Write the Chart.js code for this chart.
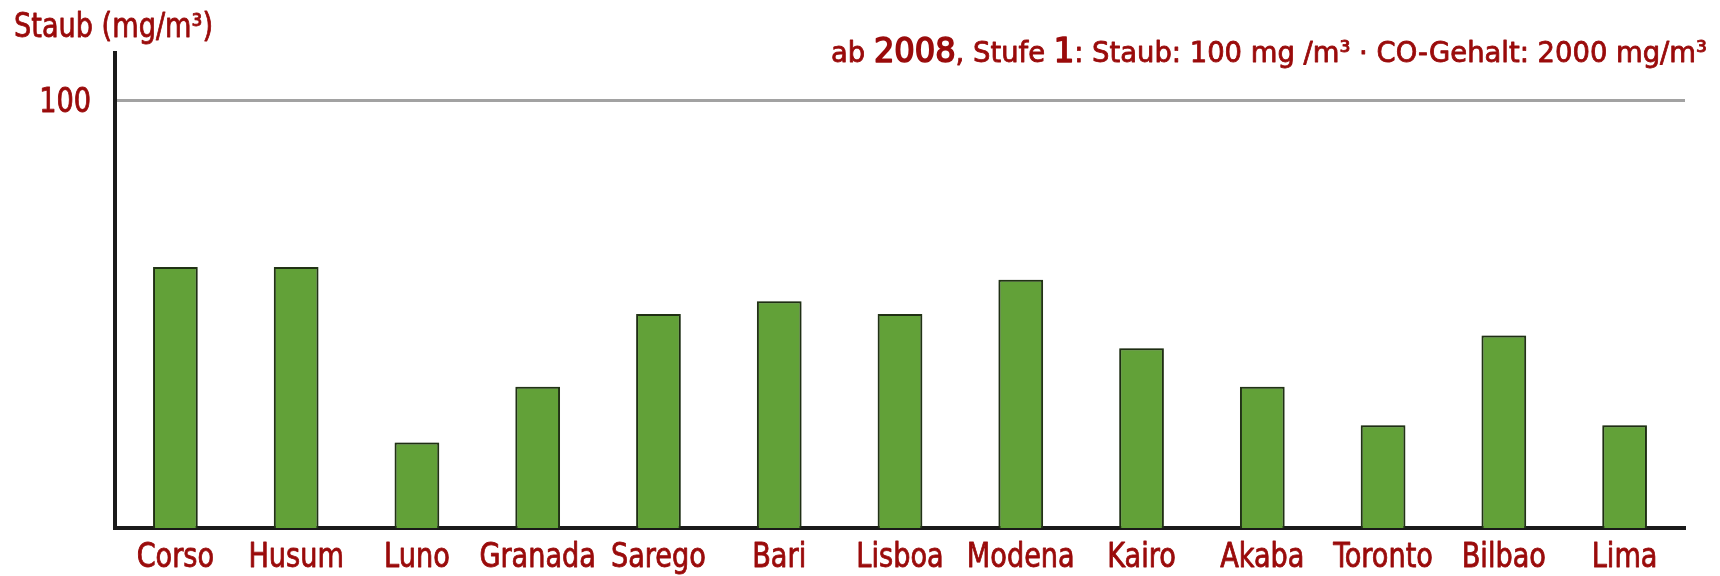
<!DOCTYPE html>
<html><head><meta charset="utf-8">
<script src="https://cdn.jsdelivr.net/npm/chart.js@4"></script>
<style>html,body{margin:0;padding:0;background:#fff}#wrap{width:1720px;height:576px;position:relative}</style>
</head><body><div id="wrap"><canvas id="c" width="1720" height="576"></canvas></div>
<script>
const categories = ['Corso','Husum','Luno','Granada','Sarego','Bari','Lisboa','Modena','Kairo','Akaba','Toronto','Bilbao','Lima'];
const staubValues = [61,61,20,33,50,53,50,58,42,33,24,45,24];
const yTickValues = [100];
const yAxisTitle = 'Staub (mg/m³)';
const noteParts = [['ab ',false],['2008',true],[', Stufe ',false],['1',true],[': Staub: 100 mg /m³ · CO-Gehalt: 2000 mg/m³',false]];

const FAM = "'DejaVu Sans Condensed','Liberation Sans Narrow',sans-serif";
const RED = '#9a0b0b';

function condensedText(ctx, text, x, y, size, sx, align, heavy) {
  ctx.save();
  ctx.font = size + 'px ' + FAM;
  const w = ctx.measureText(text).width * sx;
  let left = x;
  if (align === 'center') left = x - w / 2;
  else if (align === 'right') left = x - w;
  ctx.translate(left, y);
  ctx.scale(sx, 1);
  ctx.textAlign = 'left';
  ctx.textBaseline = 'alphabetic';
  ctx.fillText(text, 0, 0);
  ctx.strokeStyle = ctx.fillStyle;
  ctx.lineWidth = heavy ? 1.6 : 0.8;
  ctx.lineJoin = 'round';
  ctx.strokeText(text, 0, 0);
  ctx.restore();
  return w;
}

const shadowPlugin = {
  id: 'barShadow',
  beforeDatasetsDraw(chart) {
    const ctx = chart.ctx;
    ctx.save();
    ctx.shadowColor = 'rgba(0,0,0,0.35)';
    ctx.shadowBlur = 3;
  },
  afterDatasetsDraw(chart) { chart.ctx.restore(); }
};

const textPlugin = {
  id: 'texts',
  afterDraw(chart) {
    const ctx = chart.ctx;
    ctx.save();
    ctx.fillStyle = RED;
    ctx.font = '33px ' + FAM;
    const SX = 199 / ctx.measureText(yAxisTitle).width;
    condensedText(ctx, yAxisTitle, 14, 37, 33, SX, 'left');
    // note, fitted between x=831 and x=1707
    let total = 0;
    noteParts.forEach(([t, big]) => { ctx.font = (big ? '34px ' : '29px ') + FAM; total += ctx.measureText(t).width; });
    const nsx = 876 / total;
    let x = 831;
    noteParts.forEach(([t, big]) => { x += condensedText(ctx, t, x, 62, big ? 34 : 29, nsx, 'left', big); });
    // y tick labels
    const ys = chart.scales.y;
    ys.ticks.forEach(t => {
      condensedText(ctx, String(t.value), 91, ys.getPixelForValue(t.value) + 12, 33, SX, 'right');
    });
    // x tick labels
    const xs = chart.scales.x;
    categories.forEach((c, i) => {
      condensedText(ctx, c, xs.getPixelForTick(i), 567, 33, SX, 'center');
    });
    ctx.restore();
  }
};

new Chart(document.getElementById('c'), {
  type: 'bar',
  data: {
    labels: categories,
    datasets: [{
      data: staubValues,
      backgroundColor: '#62a138',
      borderColor: '#233516',
      borderWidth: 2,
      barPercentage: 0.37,
      categoryPercentage: 1
    }]
  },
  options: {
    responsive: false,
    devicePixelRatio: 1,
    animation: false,
    layout: { padding: { left: 0, right: 35, top: 53, bottom: 0 } },
    plugins: { legend: { display: false }, tooltip: { enabled: false } },
    scales: {
      x: {
        afterFit: s => { s.height = 48; },
        grid: { display: false },
        border: { color: '#1a1a1a', width: 4 },
        ticks: { display: false }
      },
      y: {
        min: 0, max: 111,
        afterBuildTicks: s => { s.ticks = yTickValues.map(v => ({ value: v })); },
        afterFit: s => { s.width = 115; },
        grid: { color: '#a2a2a2', lineWidth: 3, drawTicks: false },
        border: { color: '#1a1a1a', width: 4 },
        ticks: { display: false }
      }
    }
  },
  plugins: [shadowPlugin, textPlugin]
});
</script></body></html>
